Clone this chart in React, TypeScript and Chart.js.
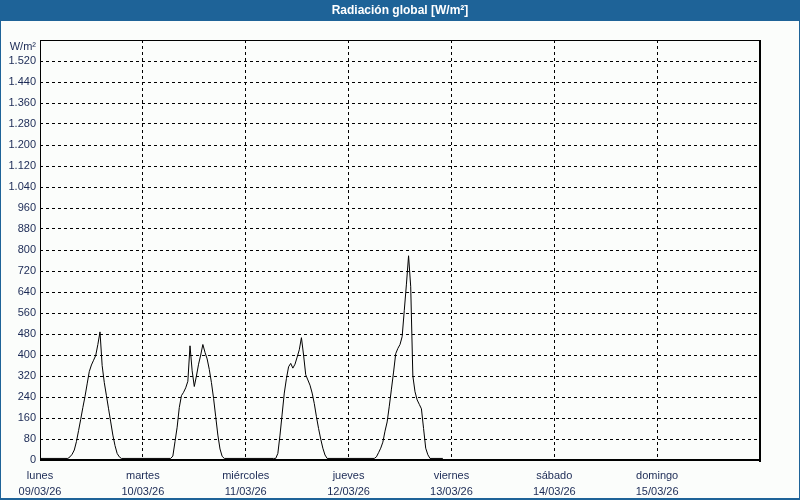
import React, { useEffect, useRef } from 'react';
import { Chart, registerables } from 'chart.js';

Chart.register(...registerables);

const TITLE = 'Radiación global [W/m²]';
const UNIT_LABEL = 'W/m²';

const dayNames = ['lunes', 'martes', 'miércoles', 'jueves', 'viernes', 'sábado', 'domingo'];
const dayDates = ['09/03/26', '10/03/26', '11/03/26', '12/03/26', '13/03/26', '14/03/26', '15/03/26'];

const Y_MAX = 1600;
const Y_STEP = 80;
const X_MAX_HOURS = 168;
const X_STEP_HOURS = 24;

// hours since Monday 09/03/26 00:00
const hours = [
  0, 6.5, 7, 7.5, 8, 8.5, 9, 9.5, 10, 10.5, 11, 11.5, 12, 12.5, 13, 13.5, 14, 14.5, 15, 15.5, 16, 16.5, 17, 17.5, 18, 18.5, 19,
  30.5, 31, 31.5, 32, 32.5, 33, 33.5, 34, 34.5, 35, 35.5, 36, 36.5, 37, 37.5, 38, 38.5, 39, 39.5, 40, 40.5, 41, 41.5, 42, 42.5, 43,
  54.5, 55, 55.5, 56, 56.5, 57, 57.5, 58, 58.5, 59, 59.5, 60, 60.5, 61, 61.5, 62, 62.5, 63, 63.5, 64, 64.5, 65, 65.5, 66, 66.5, 67,
  78, 78.5, 79, 79.5, 80, 80.5, 81, 81.5, 82, 82.5, 83, 83.5, 84, 84.5, 85, 85.5, 86, 86.5, 87, 87.5, 88, 88.5, 89, 89.5, 90, 90.5, 91, 94,
];

// global radiation, W/m²
const radiation = [
  6, 6, 12, 22, 38, 70, 112, 155, 200, 242, 290, 337, 362, 380, 398, 440, 488, 360, 295, 245, 195, 145, 95, 55, 25, 12, 6,
  6, 15, 70, 125, 200, 245, 258, 275, 300, 435, 340, 280, 320, 365, 400, 440, 410, 385, 345, 295, 235, 165, 95, 42, 14, 6,
  6, 6, 25, 95, 175, 255, 310, 355, 368, 350, 365, 392, 420, 466, 400, 325, 305, 285, 255, 215, 165, 120, 80, 45, 19, 6,
  6, 12, 28, 45, 68, 110, 145, 205, 270, 335, 405, 425, 440, 470, 570, 670, 778, 660, 320, 260, 229, 212, 195, 120, 45, 20, 6, 6,
];

const FONT_FAMILY = "Tahoma, 'Liberation Sans', Arial, sans-serif";
const TEXT_COLOR = '#1b2a55';
const BAR_BLUE = '#1e6398';

function formatThousands(v: number): string {
  if (v >= 1000) {
    return Math.floor(v / 1000) + '.' + String(v % 1000).padStart(3, '0');
  }
  return String(v);
}

const framePlugin = {
  id: 'frame',
  beforeDraw(chart: any) {
    const { ctx, width, height } = chart;
    ctx.save();
    ctx.fillStyle = '#fbfdfb';
    ctx.fillRect(0, 0, width, height);
    ctx.fillStyle = BAR_BLUE;
    ctx.fillRect(0, 0, width, 21);
    ctx.fillRect(0, 0, 1, height);
    ctx.fillRect(width - 1, 0, 1, height);
    ctx.fillRect(0, height - 2, width, 2);
    ctx.fillStyle = '#ffffff';
    ctx.font = `bold 12px ${FONT_FAMILY}`;
    ctx.textAlign = 'center';
    ctx.textBaseline = 'middle';
    ctx.fillText(TITLE, width / 2, 11);
    ctx.restore();
  },
  afterDraw(chart: any) {
    const { ctx, chartArea } = chart;
    const { left, top, right, bottom } = chartArea;
    ctx.save();
    ctx.fillStyle = '#000000';
    ctx.fillRect(left, top, right - left + 1, 1);
    ctx.fillRect(left, top, 1, bottom - top + 1);
    ctx.fillRect(right - 1, top, 2, bottom - top + 2);
    ctx.fillRect(left, bottom - 1, right - left + 1, 2);
    ctx.fillStyle = TEXT_COLOR;
    ctx.font = `11px ${FONT_FAMILY}`;
    ctx.textAlign = 'right';
    ctx.textBaseline = 'middle';
    ctx.fillText(UNIT_LABEL, left - 4, top + 7);
    ctx.restore();
  },
};

export default function App() {
  const canvasRef = useRef<HTMLCanvasElement>(null);

  useEffect(() => {
    document.body.style.margin = '0';
    const canvas = canvasRef.current;
    if (!canvas) return;
    const points = hours.map((h, i) => ({ x: h, y: radiation[i] }));
    const chart = new Chart(canvas, {
      type: 'line',
      data: {
        datasets: [
          {
            data: points,
            borderColor: '#000000',
            borderWidth: 1,
            pointRadius: 0,
            tension: 0,
            fill: false,
          },
        ],
      },
      options: {
        responsive: false,
        animation: false,
        devicePixelRatio: 1,
        layout: { padding: { top: 40, right: 40, left: 0, bottom: 0 } },
        plugins: {
          legend: { display: false },
          tooltip: { enabled: false },
          title: { display: false },
        },
        scales: {
          x: {
            type: 'linear',
            min: 0,
            max: X_MAX_HOURS,
            afterFit: (s: any) => {
              s.height = 40;
            },
            ticks: {
              stepSize: X_STEP_HOURS,
              autoSkip: false,
              maxRotation: 0,
              padding: 8,
              color: TEXT_COLOR,
              font: { family: FONT_FAMILY, size: 11, lineHeight: 16 / 11 },
              callback: (value: any) => {
                const i = Math.round(Number(value) / X_STEP_HOURS);
                if (i >= 0 && i < dayNames.length) return [dayNames[i], dayDates[i]];
                return '';
              },
            },
            grid: {
              drawTicks: false,
              lineWidth: 1,
              color: (c: any) => {
                const v = c.tick ? c.tick.value : 0;
                return v === 0 || v === X_MAX_HOURS ? 'rgba(0,0,0,0)' : '#000000';
              },
            },
            border: { display: false, dash: [3, 3] },
          },
          y: {
            min: 0,
            max: Y_MAX,
            afterFit: (s: any) => {
              s.width = 40;
            },
            ticks: {
              stepSize: Y_STEP,
              autoSkip: false,
              padding: 4,
              color: TEXT_COLOR,
              font: { family: FONT_FAMILY, size: 11 },
              callback: (value: any) => {
                const v = Number(value);
                if (v >= Y_MAX) return '';
                return formatThousands(v);
              },
            },
            grid: {
              drawTicks: false,
              lineWidth: 1,
              color: (c: any) => {
                const v = c.tick ? c.tick.value : 0;
                return v === 0 || v === Y_MAX ? 'rgba(0,0,0,0)' : '#000000';
              },
            },
            border: { display: false, dash: [3, 3] },
          },
        },
      },
      plugins: [framePlugin],
    });
    return () => chart.destroy();
  }, []);

  return (
    <div style={{ position: 'absolute', left: 0, top: 0, width: 800, height: 500 }}>
      <canvas ref={canvasRef} width={800} height={500} style={{ display: 'block', width: 800, height: 500 }} />
    </div>
  );
}
